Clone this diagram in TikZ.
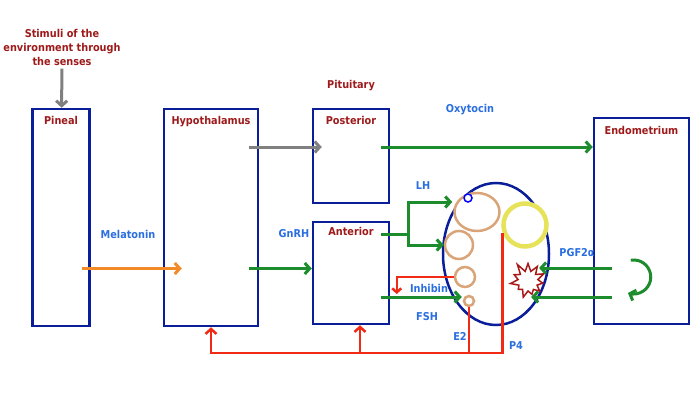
\documentclass[tikz,border=0pt]{standalone}
\usepackage{fontspec}
\setmainfont{DejaVu Sans Condensed}
\usetikzlibrary{positioning}
\usetikzlibrary{calc}
\usetikzlibrary{arrows.meta}
\usetikzlibrary{shapes.geometric}
\usetikzlibrary{shapes.symbols}
\definecolor{boxblue}{HTML}{0A1E9A}
\definecolor{titlered}{HTML}{9E1A1A}
\definecolor{labelblue}{HTML}{2A6EE0}
\definecolor{hgreen}{HTML}{1C8C2C}
\definecolor{hred}{HTML}{F02A14}
\definecolor{horange}{HTML}{F28A28}
\definecolor{hgray}{HTML}{808080}
\definecolor{ftan}{HTML}{D8A478}
\definecolor{fyellow}{HTML}{E6E25A}
\definecolor{starred}{HTML}{A81818}

\begin{document}
\begin{tikzpicture}[x=1pt, y=-1pt,
    organ/.style={draw=boxblue, line width=2.5pt, inner sep=0pt},
    title/.style={text=titlered, font=\bfseries\fontsize{10.8}{14}\selectfont},
    hormone/.style={text=labelblue, font=\bfseries\fontsize{10.8}{13}\selectfont},
    follicle/.style={circle, draw=ftan, line width=2.5pt, fill=white, inner sep=0pt},
    flow/.style={line width=3pt, -{Straight Barb[length=5pt,width=11pt]}},
    feedback/.style={line width=2.5pt, hred}]
    \useasboundingbox (0,0) rectangle (699,404);

    % organs
    \node[organ, minimum width=57pt, minimum height=217pt] (pineal) at (61,217.5) {};
    \node[organ, minimum width=94pt, minimum height=217pt] (hypo) at (211,217.5) {};
    \node[organ, minimum width=76pt, minimum height=94pt] (post) at (351,156) {};
    \node[organ, minimum width=76pt, minimum height=102pt] (ant) at (351,273) {};
    \node[organ, minimum width=95pt, minimum height=206pt] (endo) at (641.5,221) {};

    \node[title, below=5pt of pineal.north] {Pineal};
    \node[title, below=5pt of hypo.north] {Hypothalamus};
    \node[title, below=5pt of post.north] {Posterior};
    \node[title, below=3pt of ant.north] {Anterior};
    \node[title, below=6pt of endo.north] {Endometrium};
    \node[title, above=13pt of post.north] (pituitary) {Pituitary};
    \node[title, align=center] (stimuli) at (62,47) {Stimuli of the\\environment through\\the senses};

    % ovary
    \node[ellipse, draw=boxblue, line width=2.5pt, minimum width=106pt, minimum height=142pt, inner sep=0pt] (ovary) at (496,254) {};
    \node[follicle, ellipse, minimum width=45pt, minimum height=38pt] (f1) at (477,212) {};
    \node[circle, draw=blue, line width=1.5pt, fill=white, minimum size=8pt, inner sep=0pt] (oocyte) at (468,198) {};
    \node[follicle, minimum size=28pt] (f2) at (459,245) {};
    \node[follicle, minimum size=20pt] (f3) at (465,277) {};
    \node[follicle, minimum size=10pt] (f4) at (469,301) {};
    \node[circle, draw=fyellow, line width=4.5pt, fill=white, minimum size=43pt, inner sep=0pt] (cl) at (525,225) {};
    \node[starburst, draw=starred, line width=1.5pt, fill=white, minimum width=40pt, minimum height=40pt,
        starburst points=11, starburst point height=10pt, random starburst=11] (lysis) at (528,281) {};

    % hormones
    \draw[flow, hgray] (stimuli) -- (pineal);
    \draw[flow, hgray] ($(hypo.east)+(-10,-70.5)$) -- ($(post.west)+(10,-9)$);
    \draw[flow, hgreen] ($(post.east)+(-9,-9)$) -- ($(endo.west)+(0,-74)$);
    \draw[flow, horange] ($(pineal.east)+(-9,51)$) -- ($(hypo.west)+(19,51)$);
    \draw[flow, hgreen] ($(hypo.east)+(-10,51)$) -- ($(ant.west)+(0,-4.5)$);

    \coordinate (split) at ($(ant.east)+(18,-39)$);
    \draw[line width=3pt, hgreen] ($(ant.east)+(-9,-39)$) -- (split);
    \draw[flow, hgreen] (split) |- ($(f1.west)+(-1,-10)$);
    \draw[flow, hgreen] (split) |- (f2.west);
    \draw[flow, hgreen] ($(ant.east)+(-9,24)$) -- ($(f4.west)+(-1,-4)$);

    % feedback
    \draw[feedback, -{Straight Barb[length=5pt,width=11pt]}] (cl.200) -- ++(0,120) -| (hypo.south);
    \draw[feedback] (f4.south) -- ++(0,46);
    \draw[feedback, -{Straight Barb[length=5pt,width=11pt]}] ($(ant.south)+(9,28)$) -- ([xshift=9pt]ant.south);
    \draw[feedback, -{Straight Barb[length=4pt,width=9pt]}] (f3.west) -| ($(f3.west)+(-57,17)$);

    \draw[flow, hgreen] ($(endo.west)+(19,47)$) -- ($(lysis.east)+(-2,-13)$);
    \draw[flow, hgreen] ($(endo.west)+(19,76)$) -- ($(lysis.east)+(-10,16)$);
    \draw[flow, hgreen] ($(endo.west)+(41,56)$) ++(-100:17) arc (-100:110:17);

    \node[hormone] (oxytocin) at (470,110) {Oxytocin};
    \node[hormone] (melatonin) at (128,234) {Melatonin};
    \node[hormone] (gnrh) at (294,234) {GnRH};
    \node[hormone] (lh) at (423,186) {LH};
    \node[hormone] (inhibin) at (429,288) {Inhibin};
    \node[hormone] (fsh) at (427,317) {FSH};
    \node[hormone] (e2) at (460,336) {E2};
    \node[hormone] (p4) at (516,346) {P4};
    \node[hormone] (pgf) at (577,253) {PGF2α};
\end{tikzpicture}
\end{document}
